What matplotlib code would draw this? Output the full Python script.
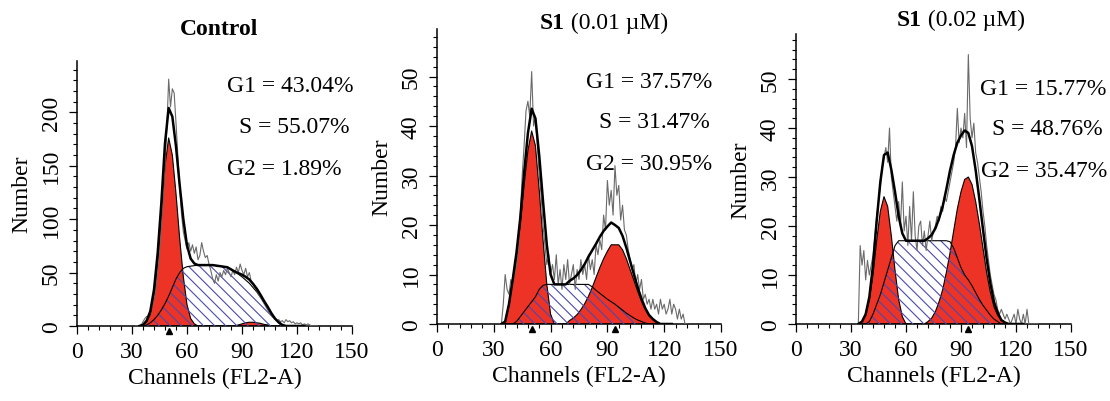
import matplotlib
matplotlib.use('Agg')
import matplotlib.pyplot as plt
import numpy as np
from matplotlib.ticker import MultipleLocator
from matplotlib.transforms import offset_copy

plt.rcParams['font.family'] = ['Liberation Serif', 'DejaVu Serif']
plt.rcParams['hatch.linewidth'] = 0.8

# ---------------- data ----------------
# model components sampled every 2 channels (34 .. 124)
channels = list(range(34, 126, 2))

ctrl_g1 = [0, 1, 4, 11, 28, 58, 100, 150, 176, 160, 124, 82, 46, 20, 7, 2, 0,
           0, 0, 0, 0, 0, 0, 0, 0, 0, 0, 0, 0, 0, 0, 0, 0, 0, 0, 0, 0, 0, 0, 0,
           0, 0, 0, 0, 0, 0]
ctrl_s = [0, 0, 1, 3, 6, 10, 15, 21, 28, 36, 44, 50, 54, 55.5, 56, 56.5, 57, 57,
          57, 57, 57, 56.5, 56, 55.5, 55, 53, 51, 48.5, 46, 43, 40, 36, 32, 27,
          22, 17, 12, 7, 3.5, 1, 0, 0, 0, 0, 0, 0]
ctrl_g2 = [0, 0, 0, 0, 0, 0, 0, 0, 0, 0, 0, 0, 0, 0, 0, 0, 0, 0, 0, 0, 0, 0, 0,
           0, 0, 0, 0, 1, 2, 3, 3.5, 3.5, 3, 2.5, 1.5, 1, 0, 0, 0, 0, 0, 0, 0,
           0, 0, 0]

s1a_g1 = [0, 0.5, 4, 9, 14, 20, 28, 35, 39, 36, 27, 17, 8, 2, 0,
          0, 0, 0, 0, 0, 0, 0, 0, 0, 0, 0, 0, 0, 0, 0, 0, 0, 0, 0, 0, 0, 0, 0,
          0, 0, 0, 0, 0, 0, 0, 0]
s1a_s = [0, 0, 0, 0, 0.5, 1.5, 2.5, 3.5, 4.5, 5.5, 7, 7.8, 8, 8, 8, 8, 8, 8, 8,
         8, 8, 8, 8, 8, 7.5, 6.8, 6.2, 5.6, 5, 4.5, 4, 3.4, 2.8, 2.2, 1.7, 1.2,
         0.8, 0.5, 0.2, 0, 0, 0, 0, 0, 0, 0]
s1a_g2 = [0, 0, 0, 0, 0, 0, 0, 0, 0, 0, 0, 0, 0, 0, 0, 0, 0, 0,
          0.7, 1.2, 1.9, 2.9, 4.1, 5.6, 7.4, 9.4, 11.4, 13.2, 14.7, 16, 16, 16,
          15, 13.2, 11, 8.8, 6.6, 4.6, 3, 1.8, 1, 0.4, 0, 0, 0, 0]

s1b_g1 = [0, 0.5, 2, 5, 10, 17, 23, 26, 24, 18, 11, 5, 1.5, 0,
          0, 0, 0, 0, 0, 0, 0, 0, 0, 0, 0, 0, 0, 0, 0, 0, 0, 0, 0, 0, 0, 0, 0,
          0, 0, 0, 0, 0, 0, 0, 0, 0]
s1b_s = [0, 0, 0, 0.5, 2, 4, 6, 8.5, 11, 13.5, 16, 17, 17, 17, 17, 17, 17, 17,
         17, 17, 17, 17, 17, 17, 17, 16.8, 15.5, 13.5, 11.5, 10, 9, 7.8, 6.4, 5,
         3.8, 2.8, 1.8, 1, 0.5, 0, 0, 0, 0, 0, 0, 0]
s1b_g2 = [0, 0, 0, 0, 0, 0, 0, 0, 0, 0, 0, 0, 0, 0, 0, 0, 0, 0, 0,
          0.5, 1.2, 2.5, 4.5, 7, 10.5, 14.5, 19, 23.5, 27, 29.5, 30, 28.5, 25,
          20.5, 15.5, 10.5, 6.5, 3.5, 1.8, 0.8, 0.3, 0, 0, 0, 0, 0]

# raw histograms (one value per channel)
ctrl_raw_ch = list(range(32, 132))
ctrl_raw = [0, 0, 0, 1, 4, 7, 9, 8, 12, 18,
            25, 35, 52, 70, 95, 120, 150, 185, 231, 205,
            222, 218, 190, 160, 130, 105, 88, 80, 72, 78,
            70, 76, 68, 74, 62, 66, 78, 70, 64, 66,
            58, 52, 44, 40, 48, 42, 50, 46, 52, 48,
            54, 50, 46, 52, 48, 55, 50, 58, 52, 48,
            54, 46, 50, 42, 40, 36, 33, 30, 27, 24,
            21, 18, 15, 12, 10, 8, 7, 5, 6, 4,
            5, 3, 6, 4, 5, 3, 4, 2, 3, 2,
            3, 1, 2, 1, 2, 1, 0, 0, 0, 0]

s1a_raw_ch = list(range(33, 133))
s1a_raw = [0, 0, 4, 10, 7, 6, 9, 8, 10, 12,
           15, 22, 30, 36, 43, 45, 42, 51, 40, 42,
           36, 30, 26, 20, 16, 12, 14, 10, 12, 9,
           14, 8, 11, 7, 12, 9, 13, 8, 10, 12,
           7, 11, 9, 13, 10, 12, 9, 14, 11, 13,
           10, 16, 14, 17, 15, 22, 19, 29, 24, 27,
           22, 32, 26, 28, 21, 24, 19, 18, 15, 13,
           11, 12, 8, 10, 7, 9, 5, 6, 4, 5,
           3, 5, 3, 4, 2, 5, 3, 4, 2, 3,
           5, 2, 4, 3, 1, 3, 1, 2, 0, 0]

s1b_raw_ch = list(range(33, 133))
s1b_raw = [0, 0, 16, 12, 15, 9, 13, 10, 12, 14,
           18, 22, 25, 28, 32, 34, 36, 33, 40, 30,
           27, 24, 21, 25, 20, 29, 19, 22, 16, 24,
           17, 27, 18, 15, 20, 21, 16, 19, 15, 18,
           21, 17, 19, 20, 22, 21, 24, 23, 26, 25,
           27, 29, 31, 33, 36, 44, 37, 40, 38, 43,
           36, 55, 42, 38, 41, 35, 33, 30, 27, 23,
           20, 16, 13, 10, 8, 6, 5, 3, 2, 3,
           2, 1, 2, 1, 0, 1, 2, 0, 3, 1,
           0, 2, 0, 3, 0, 0, 0, 0, 0, 0]

ctrl_peaks = [50]
s1a_peaks = [50, 94]
s1b_peaks = [94]

ctrl_stats = ['G1 = 43.04%', 'S = 55.07%', 'G2 = 1.89%']
s1a_stats = ['G1 = 37.57%', 'S = 31.47%', 'G2 = 30.95%']
s1b_stats = ['G1 = 15.77%', 'S = 48.76%', 'G2 = 35.47%']

xticks = [0, 30, 60, 90, 120, 150]

# ---------------- styling ----------------
RED = '#ec3326'
HATCH_C = '#4a4ab0'
FS = 17
W, H = 1110, 402

fig = plt.figure(figsize=(W / 100, H / 100), dpi=100)


def px_axes(x0, x1, y0, y1):
    return fig.add_axes([x0 / W, 1 - y1 / H, (x1 - x0) / W, (y1 - y0) / H])


def draw(ax, g1, s, g2, raw_ch, raw, peaks, ymax, major, minor):
    ch = np.array(channels, float)
    g1 = np.array(g1, float)
    s = np.array(s, float)
    g2 = np.array(g2, float)
    fit = g1 + s + g2
    ax.fill_between(ch, 0, g1, facecolor=RED, edgecolor='none', zorder=2)
    ax.fill_between(ch, 0, g2, facecolor=RED, edgecolor='none', zorder=2)
    ax.plot(ch, g1, color='black', lw=0.8, zorder=3)
    ax.plot(ch, g2, color='black', lw=0.8, zorder=3)
    ax.fill_between(ch, 0, s, facecolor='none', edgecolor=HATCH_C,
                    hatch='\\\\\\', lw=0, zorder=4)
    ax.plot(ch, s, color='black', lw=0.8, zorder=5)
    ax.plot(raw_ch, raw, color='#6a6a6a', lw=0.8, zorder=6)
    ax.plot(ch, fit, color='black', lw=1.8, zorder=7)
    tr = offset_copy(ax.get_xaxis_transform(), fig=fig, x=0, y=-4.5, units='dots')
    ax.plot(peaks, [0] * len(peaks), linestyle='none', marker='^', ms=5,
            color='black', transform=tr, clip_on=False, zorder=8)

    ax.set_xlim(0, 150)
    ax.set_ylim(0, ymax)
    ax.set_xticks(xticks)
    ax.xaxis.set_minor_locator(MultipleLocator(6))
    ax.yaxis.set_major_locator(MultipleLocator(major))
    ax.yaxis.set_minor_locator(MultipleLocator(minor))
    for sp in ['top', 'right']:
        ax.spines[sp].set_visible(False)
    for sp in ['left', 'bottom']:
        ax.spines[sp].set_linewidth(1.1)
    ax.tick_params(which='major', direction='out', length=6, width=0.9,
                   labelsize=FS, pad=5)
    ax.tick_params(which='minor', direction='out', length=3, width=0.8)
    for lbl in ax.get_yticklabels():
        lbl.set_rotation(90)
        lbl.set_va('center')
    ax.set_xlabel('Channels (FL2-A)', fontsize=FS, labelpad=3)
    ax.set_ylabel('Number', fontsize=FS, labelpad=6)


def put_text(s, x, y, va='baseline', **kw):
    return fig.text(x / W, 1 - y / H, s, fontsize=FS, ha='left', va=va, **kw)


ax1 = px_axes(77, 352, 62, 327)
draw(ax1, ctrl_g1, ctrl_s, ctrl_g2, ctrl_raw_ch, ctrl_raw, ctrl_peaks, 248, 50, 10)
ax2 = px_axes(437, 721, 30, 325)
draw(ax2, s1a_g1, s1a_s, s1a_g2, s1a_raw_ch, s1a_raw, s1a_peaks, 59.6, 10, 2)
ax3 = px_axes(796, 1071, 35, 325)
draw(ax3, s1b_g1, s1b_s, s1b_g2, s1b_raw_ch, s1b_raw, s1b_peaks, 59.2, 10, 2)

# titles (bold sample name followed by regular concentration)
put_text('Control', 180, 35, fontweight='bold')
ann_kw = dict(fontsize=FS, ha='left', va='bottom')
t1 = put_text('S1', 540, 34, va='bottom', fontweight='bold')
fig.add_artist(matplotlib.text.Annotation(' (0.01 \u00b5M)', xy=(1, 0), xycoords=t1, **ann_kw))
t2 = put_text('S1', 896.7, 31, va='bottom', fontweight='bold')
fig.add_artist(matplotlib.text.Annotation(' (0.02 \u00b5M)', xy=(1, 0), xycoords=t2, **ann_kw))

# phase percentages
pos1 = [(227, 91.7), (239, 133.3), (227, 175)]
pos2 = [(586, 88.3), (599.3, 128.3), (586, 170)]
pos3 = [(980, 95), (992.3, 135), (980.7, 176.7)]
for stats, pos in [(ctrl_stats, pos1), (s1a_stats, pos2), (s1b_stats, pos3)]:
    for s, (x, y) in zip(stats, pos):
        put_text(s, x, y)

fig.savefig('out.png', dpi=100)
